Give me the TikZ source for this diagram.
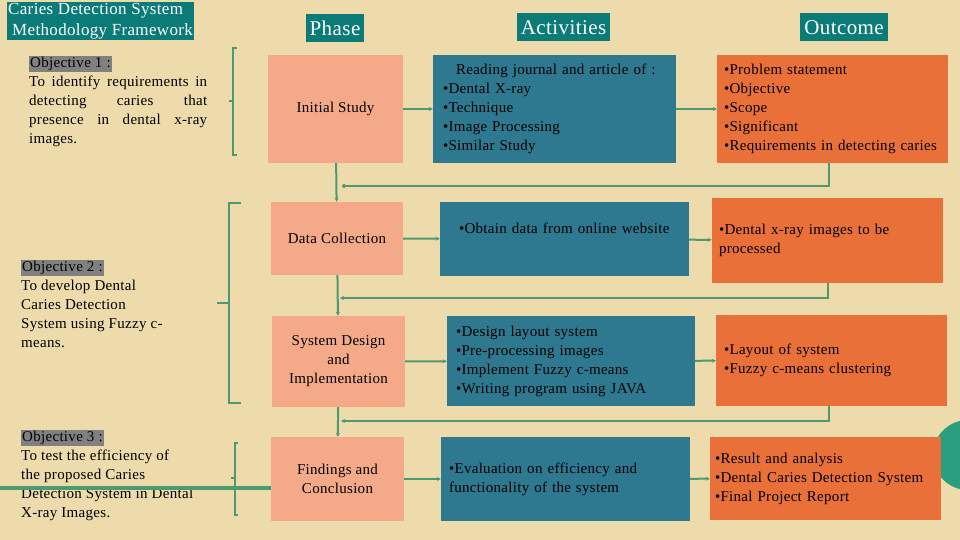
\documentclass[tikz,border=0pt]{standalone}
\usepackage{fontspec}
\setmainfont{Liberation Serif}[LetterSpace=2]
\usepackage{xcolor}
\usepackage{tikz}
\usetikzlibrary{arrows.meta}
\definecolor{bg}{RGB}{237,219,172}
\definecolor{salmon}{RGB}{244,169,137}
\definecolor{actblue}{RGB}{46,120,144}
\definecolor{outorange}{RGB}{234,112,58}
\definecolor{hdr}{RGB}{11,123,120}
\definecolor{lnk}{RGB}{76,154,112}
\definecolor{circ}{RGB}{44,158,128}
\definecolor{objgray}{RGB}{128,128,128}
\newcommand{\bodyfont}{\fontsize{15}{19}\selectfont}
\setlength{\fboxsep}{1pt}

\begin{document}
\begin{tikzpicture}[x=1pt, y=-1pt,
  phase/.style={fill=salmon, align=center, inner sep=0pt, font=\bodyfont},
  act/.style={fill=actblue, align=left, inner sep=0pt, font=\bodyfont},
  res/.style={fill=outorange, align=left, inner sep=0pt, font=\bodyfont},
  head/.style={fill=hdr, text=white, inner xsep=4pt, inner ysep=0pt, minimum height=28pt,
    font=\fontsize{21}{24}\selectfont},
  obj/.style={anchor=north west, inner sep=0pt, font=\bodyfont},
  link/.style={draw=lnk, line width=2pt}, brk/.style={draw=lnk, line width=1.2pt},
  >={Stealth[length=4pt, width=4pt]}]
  \fill[bg] (0,0) rectangle (960,540);
  \useasboundingbox (0,0) rectangle (960,540);
  \fill[circ] (968,455) circle (35pt);

  \node[fill=hdr, text=white, anchor=north west, align=left, inner sep=1pt,
    font=\fontsize{17}{21}\selectfont] (title) at (7,2)
    {Caries Detection System\\\hspace*{4pt}Methodology Framework};
  \node[head] (hp) at (335,28) {Phase};
  \node[head] (ha) at (563.5,27.5) {Activities};
  \node[head] (ho) at (844,27.5) {Outcome};

  \node[obj, text width=178pt, align=justify] (obj1) at (29,56)
    {\colorbox{objgray}{Objective 1 :}\\
     To identify requirements in\linebreak detecting caries that\linebreak
     presence in dental x-ray\linebreak images.};
  \node[obj, align=left] (obj2) at (21,260)
    {\colorbox{objgray}{Objective 2 :}\\To develop Dental\\Caries Detection\\
     System using Fuzzy c-\\means.};
  \node[obj, align=left] (obj3) at (21,430)
    {\colorbox{objgray}{Objective 3 :}\\To test the efficiency of\\the proposed Caries\\
     Detection System in Dental\\X-ray Images.};

  % phases
  \node[phase, minimum width=135pt, minimum height=108pt] (p1) at (335.5,109) {Initial Study};
  \node[phase, minimum width=132pt, minimum height=73pt] (p2) at (337,238.5) {Data Collection};
  \node[phase, minimum width=133pt, minimum height=91pt] (p3) at (338.5,361.5)
    {System Design\\and\\Implementation};
  \node[phase, minimum width=133pt, minimum height=84pt] (p4) at (337.5,479)
    {Findings and\\Conclusion};

  % activities
  \node[act, minimum width=243pt, minimum height=108pt, text width=223pt] (a1) at (554.5,109)
    {\hspace*{13pt}Reading journal and article of :\\•Dental X-ray\\•Technique\\
     •Image Processing\\•Similar Study};
  \node[act, minimum width=249pt, minimum height=74pt, text width=211pt] (a2) at (564.5,239)
    {•Obtain data from online website\\[-3pt]\strut};
  \node[act, minimum width=248pt, minimum height=90pt, text width=230pt] (a3) at (571,361)
    {•Design layout system\\•Pre-processing images\\•Implement Fuzzy c-means\\
     •Writing program using JAVA};
  \node[act, minimum width=249pt, minimum height=84pt, text width=233pt] (a4) at (565.5,479)
    {•Evaluation on efficiency and\\functionality of the system};

  % outcomes
  \node[res, minimum width=231pt, minimum height=108pt, text width=217pt] (o1) at (832.5,109)
    {•Problem statement\\•Objective\\•Scope\\•Significant\\•Requirements in detecting caries};
  \node[res, minimum width=231pt, minimum height=85pt, text width=217pt] (o2) at (827.5,240.5)
    {•Dental x-ray images to be\\processed};
  \node[res, minimum width=231pt, minimum height=91pt, text width=215pt] (o3) at (831.5,360.5)
    {•Layout of system\\•Fuzzy c-means clustering};
  \node[res, minimum width=231pt, minimum height=83pt, text width=221pt] (o4) at (825.5,478.5)
    {•Result and analysis\\•Dental Caries Detection System\\•Final Project Report};

  % flow
  \draw[link, ->] (p1) -- (a1);
  \draw[link, ->] (a1) -- (o1);
  \draw[link, ->] (p2) -- (a2);
  \draw[link, ->] (a2) -- (o2);
  \draw[link, ->] (p3) -- (a3);
  \draw[link, ->] (a3) -- (o3);
  \draw[link, ->] (p4) -- (a4);
  \draw[link, ->] (a4) -- (o4);
  \draw[link, ->] (p1) -- (p2);
  \draw[link, ->] (p2) -- (p3);
  \draw[link, ->] (p3) -- (p4);

  % feedback
  \coordinate (f1) at (342,186);
  \coordinate (f2) at (340,298);
  \coordinate (f3) at (341,421);
  \draw[link, -{Circle[length=4pt]}] ([xshift=-4pt]o1.south) |- (f1);
  \draw[link, ->] (o2.south) |- (f2);
  \draw[link, ->] ([xshift=-3pt]o3.south) |- (f3);
  \coordinate (edge) at (0,488);
  \draw[link, line width=4pt] (edge) -- (edge -| p4.west);

  % brackets
  \draw[brk] (237,48) -- (233,48) -- (233,155) -- (237,155) (233,101) -- (229,101);
  \draw[brk] (241,203) -- (229,203) -- (229,403) -- (241,403) (229,303) -- (217,303);
  \draw[brk] (238,443) -- (235,443) -- (235,515) -- (238,515) (235,478) -- (231,478);
\end{tikzpicture}
\end{document}
